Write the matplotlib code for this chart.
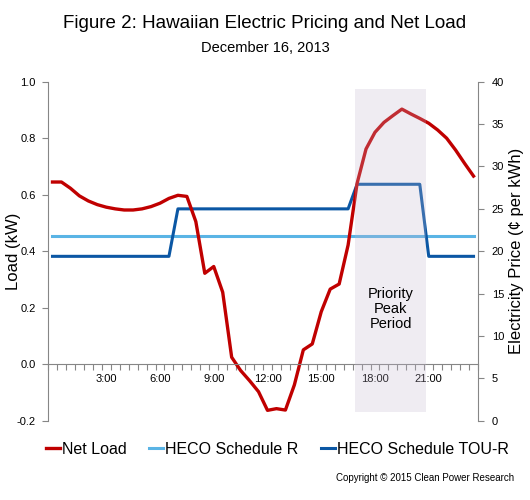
import numpy as np
import matplotlib
matplotlib.use("Agg")
from matplotlib import pyplot as plt

plt.rcParams["font.family"] = ["Liberation Sans", "DejaVu Sans"]

# half-hour steps, 0:00 .. 23:30
horas = np.arange(48) * 0.5

carga_liquida = [
    0.645, 0.645, 0.623, 0.596, 0.578, 0.565, 0.556, 0.550,
    0.546, 0.546, 0.550, 0.558, 0.570, 0.587, 0.598, 0.594,
    0.505, 0.322, 0.346, 0.255, 0.025, -0.022, -0.058, -0.097,
    -0.163, -0.157, -0.162, -0.073, 0.051, 0.072, 0.186, 0.266,
    0.284, 0.422, 0.640, 0.762, 0.821, 0.856, 0.880, 0.903,
    0.886, 0.870, 0.853, 0.829, 0.800, 0.758, 0.711, 0.666,
]

preco_r = [21.8] * 48
preco_tou = [19.4] * 14 + [25.0] * 20 + [27.9] * 8 + [19.4] * 6

rotulos_x = ["3:00", "6:00", "9:00", "12:00", "15:00", "18:00", "21:00"]
posicoes_rotulos = [3, 6, 9, 12, 15, 18, 21]
periodo_pico = (16.9, 20.85)

cinza = "#868686"
vermelho = "#C00000"
azul_claro = "#5AB4E5"
azul_escuro = "#0B57A4"

fig = plt.figure(figsize=(5.3, 5.0), dpi=100)
ax = fig.add_axes([0.0906, 0.1584, 0.8113, 0.6782])
ax2 = ax.twinx()
ax.set_zorder(ax2.get_zorder() + 1)
ax.patch.set_visible(False)

ax2.plot(horas, preco_r, color=azul_claro, lw=2.2, label="HECO Schedule R")
ax2.plot(horas, preco_tou, color=azul_escuro, lw=2.2, label="HECO Schedule TOU-R")
ax.plot(horas, carga_liquida, color=vermelho, lw=2.4, label="Net Load")

ax.axvspan(periodo_pico[0], periodo_pico[1], ymin=0.027, ymax=0.978,
           color="#C3B7CF", alpha=0.25, lw=0, zorder=5)
ax.text(np.mean(periodo_pico), 0.196, "Priority\nPeak\nPeriod", ha="center",
        va="center", fontsize=10.5, linespacing=1.1, zorder=6)

ax.set_xlim(-0.25, 23.75)
ax.set_ylim(-0.2, 1.0)
ax2.set_ylim(0, 40)
ax.set_yticks(np.arange(-0.2, 1.01, 0.2))
ax.set_yticklabels([f"{v:.1f}" for v in np.arange(-0.2, 1.01, 0.2)])
ax2.set_yticks(np.arange(0, 41, 5))

ax.set_xticks(np.arange(-0.25, 23.76, 0.5))
ax.set_xticklabels([])
ax.set_xticks(posicoes_rotulos, rotulos_x, minor=True)
ax.tick_params(axis="x", which="major", length=4, color=cinza, direction="out")
ax.tick_params(axis="x", which="minor", length=0, pad=7, labelsize=8)

ax.spines["bottom"].set_position(("data", 0))
for a in (ax, ax2):
    a.spines["top"].set_visible(False)
    for s in a.spines.values():
        s.set_color(cinza)
ax.spines["right"].set_visible(False)
ax2.spines["left"].set_visible(False)
ax2.spines["bottom"].set_visible(False)
ax.tick_params(axis="y", length=4, color=cinza, pad=5, labelsize=8)
ax2.tick_params(axis="y", length=4, color=cinza, pad=6, labelsize=8)

ax.set_ylabel("Load (kW)", fontsize=12)
ax.yaxis.set_label_coords(-0.062, 0.5)
ax2.set_ylabel("Electricity Price (¢ per kWh)", fontsize=12)
ax2.yaxis.set_label_coords(1.072, 0.5)

fig.text(0.5, 0.954, "Figure 2: Hawaiian Electric Pricing and Net Load",
         ha="center", va="center", fontsize=13.5)
fig.text(0.5, 0.905, "December 16, 2013", ha="center", va="center", fontsize=10.5)

linhas = ax.get_lines() + ax2.get_lines()
fig.legend(linhas, [l.get_label() for l in linhas], loc="center",
           bbox_to_anchor=(0.523, 0.102), ncol=3, frameon=False, fontsize=11.5,
           handlelength=0.9, handletextpad=0.1, columnspacing=1.4)
fig.text(0.97, 0.044, "Copyright © 2015 Clean Power Research", ha="right",
         va="center", fontsize=7)

fig.savefig("out.png", dpi=100)
